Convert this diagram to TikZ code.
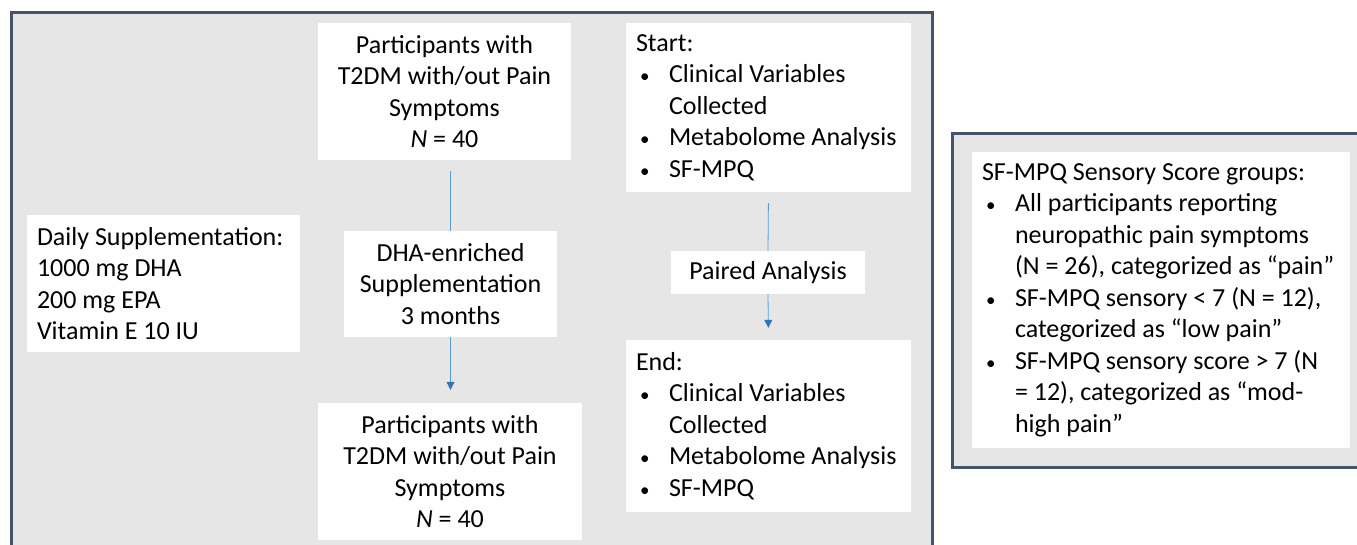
\documentclass[tikz,border=0pt]{standalone}
\usepackage{fontspec}
\setmainfont{Carlito}
\usetikzlibrary{arrows.meta}
\definecolor{framecol}{HTML}{44546A}
\definecolor{panelcol}{HTML}{E7E6E6}
\definecolor{arrowcol}{HTML}{5B9BD5}
\definecolor{tipcol}{HTML}{2E75B6}
\newcommand{\bul}{\hspace*{4pt}\makebox[29pt][l]{\fontsize{19}{19}\selectfont •}}
\newcommand{\ind}{\hspace*{33pt}}
\begin{document}
\begin{tikzpicture}[x=1pt,y=-1pt,
  whitebox/.style={fill=white, draw=none, inner sep=0pt, font=\fontsize{26}{31.5}\selectfont},
  centerbox/.style={whitebox, align=center},
  listbox/.style={whitebox, align=flush left, inner xsep=10pt},
  flow/.style={draw=arrowcol, line width=0.8pt},
  flowtip/.style={flow, -{Triangle[width=8pt,length=8pt,color=tipcol]}}]
\useasboundingbox (0,0) rectangle (1357,544);
\draw [draw = framecol, fill = panelcol, line width = 3pt] (11,12) rectangle (932,580);
\draw [draw = framecol, fill = panelcol, line width = 3pt] (952,133) rectangle (1390,467);
\node[centerbox, minimum width = 253pt, minimum height = 137pt] (top) at (444.5,91.5) {Participants with\\T2DM with/out Pain\\Symptoms\\\textit{N} = 40};
\node[centerbox, minimum width = 213pt, minimum height = 106pt] (dha) at (450.5,284) {DHA-enriched\\Supplementation\\3 months};
\node[centerbox, minimum width = 264pt, minimum height = 137pt] (bottom) at (450,471.5) {Participants with\\T2DM with/out Pain\\Symptoms\\\textit{N} = 40};
\node[listbox, text width = 253pt, minimum height = 137pt] (daily) at (163.5,283.5) {Daily Supplementation:\\1000 mg DHA\\200 mg EPA\\Vitamin E 10 IU};
\node[listbox, text width = 265pt, minimum height = 169pt] (start) at (768.5,107.5) {Start:\\\bul Clinical Variables\\\ind Collected\\\bul Metabolome Analysis\\\bul SF-MPQ};
\node[centerbox, minimum width = 194pt, minimum height = 43pt] (paired) at (768,272.5) {Paired Analysis};
\node[listbox, text width = 265pt, minimum height = 172pt] (end) at (768.5,426) {End:\\\bul Clinical Variables\\\ind Collected\\\bul Metabolome Analysis\\\bul SF-MPQ};
\node[listbox, text width = 358pt, minimum height = 296pt] (groups) at (1161,300) {SF-MPQ Sensory Score groups:\\\bul All participants reporting\\\ind neuropathic pain symptoms\\\ind (N = 26), categorized as “pain”\\\bul SF-MPQ sensory < 7 (N = 12),\\\ind categorized as “low pain”\\\bul SF-MPQ sensory score > 7 (N\\\ind = 12), categorized as “mod-\\\ind high pain”};
\draw[flow, shorten <= 11pt] (dha.north |- top.south) -- (dha.north);
\draw[flowtip, shorten >= 13pt] (dha.south) -- (dha.south |- bottom.north);
\draw[flow, shorten <= 11pt] (start.south) -- (paired.north);
\draw[flowtip, shorten >= 12pt] (paired.south) -- (end.north);
\end{tikzpicture}
\end{document}
